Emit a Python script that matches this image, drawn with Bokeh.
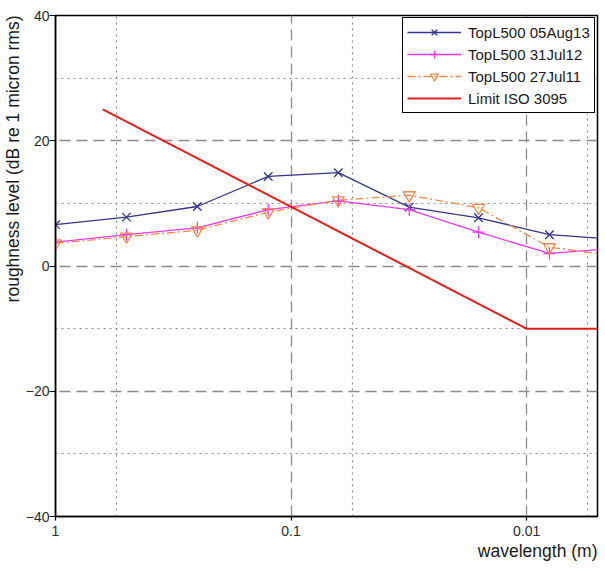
from bokeh.plotting import figure
from bokeh.models import Range1d, FixedTicker, Legend, LegendItem, CustomJSTickFormatter, Title
from bokeh.embed import file_html
from bokeh.resources import INLINE

# ---- data ----
wavelength = [1.0, 0.5, 0.25, 0.125, 0.063, 0.0315, 0.016, 0.008, 0.004]
s_2013 = [6.6, 7.8, 9.5, 14.3, 14.9, 9.4, 7.7, 5.0, 4.2]
s_2012 = [3.8, 5.0, 6.1, 9.0, 10.4, 9.0, 5.4, 2.0, 2.9]
s_2011 = [3.6, 4.7, 5.7, 8.6, 10.5, 11.3, 9.3, 3.0, 1.5]
limit_wl = [0.63, 0.01, 0.003]
limit_db = [25.0, -10.0, -10.0]

names = ["TopL500 05Aug13", "TopL500 31Jul12", "TopL500 27Jul11", "Limit ISO 3095"]
x_title = "wavelength (m)"
y_title = "roughness level (dB re 1 micron rms)"

x_ticks = [1.0, 0.1, 0.01]
x_minor_grid = [0.55, 0.055, 0.0055]
y_ticks = [-40, -20, 0, 20, 40]
y_minor_grid = [-30, -10, 10, 30]

FONT = "Liberation Sans"
GRID = "#8c8c8c"

p = figure(width=600, height=565, x_axis_type="log",
           x_range=Range1d(1.0, 0.005), y_range=Range1d(-40, 40),
           output_backend="svg", toolbar_location=None,
           min_border_left=55, min_border_top=15, min_border_right=3, min_border_bottom=49)

p.outline_line_color = "black"
p.outline_line_width = 1.5
p.outline_line_alpha = 1.0

# grids
p.xgrid.ticker = FixedTicker(ticks=x_ticks, minor_ticks=x_minor_grid)
p.ygrid.ticker = FixedTicker(ticks=y_ticks, minor_ticks=y_minor_grid)
for g in (p.xgrid, p.ygrid):
    g.grid_line_color = GRID
    g.grid_line_dash = "11 6"
    g.grid_line_width = 1.3
    g.minor_grid_line_color = GRID
    g.minor_grid_line_dash = "2 4"
    g.minor_grid_line_width = 1.2

# axes
p.xaxis.ticker = FixedTicker(ticks=x_ticks)
p.xaxis.formatter = CustomJSTickFormatter(code="return tick.toString();")
p.yaxis.ticker = FixedTicker(ticks=y_ticks)
for ax in (p.xaxis, p.yaxis):
    ax.axis_line_color = "black"
    ax.axis_line_width = 1.5
    ax.major_tick_line_color = "black"
    ax.major_tick_line_width = 1.2
    ax.major_tick_in = 0
    ax.minor_tick_line_color = None
    ax.major_label_text_font = FONT
    ax.major_label_text_font_size = "14px"
    ax.major_label_text_color = "#2b2b2b"
p.xaxis.major_tick_out = 4
p.xaxis.major_label_standoff = 5
p.yaxis.major_tick_out = 6
p.yaxis.major_label_standoff = 0

# axis titles, aligned to the right / top ends as in the reference
for txt, side in ((x_title, "below"), (y_title, "left")):
    t = Title(text=txt, align="right", text_font=FONT, text_font_size="17.5px",
              text_font_style="normal", text_color="#1a1a1a", standoff=0, offset=0)
    p.add_layout(t, side)

# series
c1, c2, c3, c4 = "#35358a", "#e83ce8", "#f28a4e", "#e3201c"
l1 = p.line(wavelength, s_2013, line_color=c1, line_width=1.3)
m1 = p.scatter(wavelength, s_2013, marker="x", size=12, line_color=c1, line_width=1.3)
l2 = p.line(wavelength, s_2012, line_color=c2, line_width=1.3)
m2 = p.scatter(wavelength, s_2012, marker="cross", size=12, line_color=c2, line_width=1.3)
l3 = p.line(wavelength, s_2011, line_color=c3, line_width=1.3, line_dash="8 3 2 3")
m3 = p.scatter(wavelength, s_2011, marker="inverted_triangle", size=12, line_color=c3,
               fill_color=None, line_width=1.3)
l4 = p.line(limit_wl, limit_db, line_color=c4, line_width=2)

legend = Legend(items=[LegendItem(label=names[0], renderers=[l1, m1]),
                       LegendItem(label=names[1], renderers=[l2, m2]),
                       LegendItem(label=names[2], renderers=[l3, m3]),
                       LegendItem(label=names[3], renderers=[l4])],
                location=(347, 403))
legend.border_line_color = "black"
legend.border_line_width = 1.5
legend.border_line_alpha = 1.0
legend.background_fill_color = "white"
legend.background_fill_alpha = 1.0
legend.label_text_font = FONT
legend.label_text_font_size = "15px"
legend.label_text_color = "#1a1a1a"
legend.glyph_width = 54
legend.glyph_height = 20
legend.label_height = 20
legend.spacing = 2
legend.padding = 4
legend.margin = 0
legend.label_standoff = 7
p.add_layout(legend)

open("out.html", "w").write(file_html(p, INLINE))
